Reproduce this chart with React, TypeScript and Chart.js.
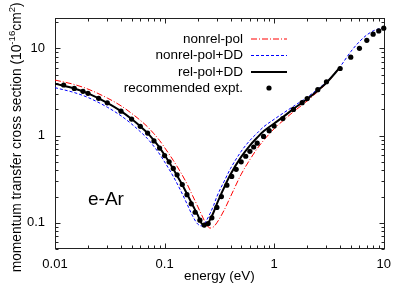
import { useEffect, useRef } from "react";
import { Chart, registerables } from "chart.js";
Chart.register(...registerables);

const FONT = '"Liberation Sans", Arial, Helvetica, sans-serif';

// energies (eV) at which the theory curves are sampled
const lineEnergies = [0.01, 0.015, 0.02, 0.03, 0.04, 0.05, 0.06, 0.07, 0.08, 0.09, 0.1, 0.12, 0.14, 0.16, 0.18, 0.2, 0.22, 0.24, 0.26, 0.28, 0.3, 0.35, 0.4, 0.5, 0.6, 0.7, 0.8, 1, 1.2, 1.5, 2, 2.5, 3, 4];
const blueEnergies = [0.01, 0.015, 0.02, 0.03, 0.04, 0.05, 0.06, 0.07, 0.08, 0.09, 0.1, 0.12, 0.14, 0.16, 0.18, 0.2, 0.22, 0.24, 0.26, 0.28, 0.3, 0.35, 0.4, 0.5, 0.6, 0.7, 0.8, 1, 1.2, 1.5, 2, 2.5, 3, 4, 5, 6, 7, 8, 9, 10];

// cross sections in 1e-16 cm^2
const nonrelPol = [4.34, 3.86, 3.42, 2.7, 2.2, 1.8, 1.5, 1.26, 1.05, 0.88, 0.73, 0.52, 0.38, 0.28, 0.205, 0.155, 0.12, 0.096, 0.087, 0.09, 0.1, 0.14, 0.2, 0.36, 0.53, 0.71, 0.88, 1.2, 1.48, 1.88, 2.5, 3.2, 3.98, 6.05];
const nonrelPolDD = [3.55, 3.12, 2.74, 2.12, 1.69, 1.36, 1.11, 0.92, 0.75, 0.615, 0.5, 0.34, 0.235, 0.165, 0.12, 0.097, 0.092, 0.105, 0.128, 0.158, 0.2, 0.3, 0.42, 0.66, 0.88, 1.07, 1.26, 1.54, 1.8, 2.17, 2.76, 3.42, 4.15, 6.2, 9.2, 12.0, 14.3, 15.9, 16.8, 17.3];
const relPolDD = [3.94, 3.48, 3.06, 2.38, 1.91, 1.55, 1.28, 1.07, 0.88, 0.73, 0.6, 0.415, 0.295, 0.215, 0.16, 0.124, 0.097, 0.094, 0.108, 0.132, 0.165, 0.255, 0.36, 0.57, 0.77, 0.95, 1.12, 1.38, 1.63, 2.03, 2.63, 3.3, 4.05, 6.1];

const expEnergies = [0.012, 0.015, 0.018, 0.02, 0.025, 0.03, 0.04, 0.05, 0.06, 0.07, 0.08, 0.09, 0.1, 0.11, 0.12, 0.13, 0.145, 0.16, 0.175, 0.19, 0.21, 0.23, 0.25, 0.27, 0.3, 0.33, 0.37, 0.41, 0.45, 0.5, 0.55, 0.6, 0.65, 0.7, 0.8, 0.9, 1.0, 1.2, 1.5, 1.8, 2, 2.5, 3, 4, 5, 6, 7, 8, 9, 10];
const expValues = [3.81, 3.48, 3.22, 3.06, 2.68, 2.38, 1.91, 1.55, 1.28, 1.07, 0.87, 0.72, 0.59, 0.5, 0.42, 0.355, 0.275, 0.21, 0.165, 0.132, 0.107, 0.094, 0.098, 0.114, 0.15, 0.2, 0.27, 0.34, 0.41, 0.5, 0.58, 0.66, 0.74, 0.82, 0.98, 1.14, 1.29, 1.57, 2.0, 2.39, 2.66, 3.37, 4.15, 5.89, 7.94, 10.05, 12.4, 14.6, 15.9, 17.1];

const xTickValues = [0.01, 0.1, 1, 10];
const yTickValues = [0.1, 1, 10];
const X_MIN = 0.01, X_MAX = 10, Y_MIN = 0.05, Y_MAX = 22.5;

const legendLabels = ["nonrel-pol", "nonrel-pol+DD", "rel-pol+DD", "recommended expt."];

const pts = (xs: number[], ys: number[]) => xs.map((x, i) => ({ x, y: ys[i] }));

function logTicks(min: number, max: number) {
  const out: { v: number; major: boolean }[] = [];
  for (let d = Math.floor(Math.log10(min)); d <= Math.ceil(Math.log10(max)); d++) {
    for (let m = 1; m <= 9; m++) {
      const v = Number((m * Math.pow(10, d)).toPrecision(6));
      if (v >= min * 0.9999 && v <= max * 1.0001) out.push({ v, major: m === 1 });
    }
  }
  return out;
}

const framePlugin = {
  id: "gnuplotFrame",
  beforeDatasetsDraw(chart: any) {
    const { ctx, chartArea: a, scales } = chart;
    const xs = scales.x, ys = scales.y;
    ctx.save();
    ctx.strokeStyle = "#222";
    ctx.lineWidth = 1;
    const L = Math.round(a.left) + 0.5, R = Math.round(a.right) + 0.5;
    const T = Math.round(a.top) + 0.5, B = Math.round(a.bottom) - 0.5;
    ctx.strokeRect(L, T, R - L, B - T);
    ctx.beginPath();
    for (const t of logTicks(X_MIN, X_MAX)) {
      const p = Math.round(xs.getPixelForValue(t.v)) + 0.5;
      const len = t.major ? 5 : 3;
      ctx.moveTo(p, B); ctx.lineTo(p, B - len);
      ctx.moveTo(p, T); ctx.lineTo(p, T + len);
    }
    for (const t of logTicks(Y_MIN, Y_MAX)) {
      const p = Math.round(ys.getPixelForValue(t.v)) + 0.5;
      const len = t.major ? 5 : 3;
      ctx.moveTo(L, p); ctx.lineTo(L + len, p);
      ctx.moveTo(R, p); ctx.lineTo(R - len, p);
    }
    ctx.stroke();
    ctx.restore();
  },
  afterDraw(chart: any) {
    const { ctx, chartArea: a } = chart;
    ctx.save();
    ctx.fillStyle = "#000";
    // x title
    ctx.font = `13.5px ${FONT}`;
    ctx.textAlign = "center";
    ctx.textBaseline = "alphabetic";
    ctx.fillText("energy (eV)", (a.left + a.right) / 2, 280);
    // y title with superscripts
    const big = `13.8px ${FONT}`, small = `9.6px ${FONT}`;
    const parts: [string, boolean][] = [["momentum transfer cross section (10", false], ["-16", true], ["cm", false], ["2", true], [")", false]];
    let w = 0;
    for (const [s, sup] of parts) { ctx.font = sup ? small : big; w += ctx.measureText(s).width; }
    ctx.translate(20.5, (a.top + a.bottom) / 2 + 4);
    ctx.rotate(-Math.PI / 2);
    ctx.textAlign = "left";
    let x = -w / 2;
    for (const [s, sup] of parts) {
      ctx.font = sup ? small : big;
      ctx.fillText(s, x, sup ? -5.5 : 0);
      x += ctx.measureText(s).width;
    }
    ctx.restore();

    // legend
    const rows = [39, 55.5, 72, 88];
    const x0 = 251, x1 = 287;
    ctx.save();
    ctx.fillStyle = "#000";
    ctx.font = `13.5px ${FONT}`;
    ctx.textAlign = "right";
    ctx.textBaseline = "middle";
    legendLabels.forEach((t, i) => ctx.fillText(t, 243, rows[i]));
    ctx.restore();

    const sample = (y: number, color: string, width: number, dash: number[]) => {
      ctx.save();
      ctx.strokeStyle = color;
      ctx.lineWidth = width;
      ctx.setLineDash(dash);
      ctx.beginPath();
      ctx.moveTo(x0, y);
      ctx.lineTo(x1, y);
      ctx.stroke();
      ctx.restore();
    };
    sample(rows[0], "rgb(255,0,0)", 1, [6, 2, 1, 2]);
    sample(rows[1], "rgb(0,0,255)", 1, [3, 2]);
    sample(rows[2], "rgb(0,0,0)", 2, []);
    ctx.save();
    ctx.fillStyle = "#000";
    ctx.beginPath(); ctx.arc(269, rows[3], 2.6, 0, Math.PI * 2); ctx.fill();
    // e-Ar label
    ctx.font = `19px ${FONT}`;
    ctx.textAlign = "left";
    ctx.textBaseline = "alphabetic";
    ctx.fillText("e-Ar", 88, 205);
    ctx.restore();
  },
};

export default function App() {
  const ref = useRef<HTMLCanvasElement>(null);
  useEffect(() => {
    if (!ref.current) return;
    const chart = new Chart(ref.current, {
      type: "line",
      data: {
        datasets: [
          { label: "recommended expt.", data: pts(expEnergies, expValues), showLine: false, pointRadius: 2.6, pointBackgroundColor: "#000", pointBorderWidth: 0, borderColor: "#000", order: 0, clip: 6 },
          { label: "rel-pol+DD", data: pts(lineEnergies, relPolDD), borderColor: "#000", borderWidth: 2, pointRadius: 0, cubicInterpolationMode: "monotone", order: 1 },
          { label: "nonrel-pol+DD", data: pts(blueEnergies, nonrelPolDD), borderColor: "#0000ff", borderWidth: 1, borderDash: [3, 2], pointRadius: 0, cubicInterpolationMode: "monotone", order: 2 },
          { label: "nonrel-pol", data: pts(lineEnergies, nonrelPol), borderColor: "#ff0000", borderWidth: 1, borderDash: [6, 2, 1, 2], pointRadius: 0, cubicInterpolationMode: "monotone", order: 3 },
        ] as any,
      },
      options: {
        responsive: false,
        animation: false,
        devicePixelRatio: 1,
        layout: { padding: { left: 0, right: 13, top: 15, bottom: 0 } },
        plugins: { legend: { display: false }, tooltip: { enabled: false }, title: { display: false } },
        scales: {
          x: {
            type: "logarithmic", min: X_MIN, max: X_MAX,
            grid: { display: false, drawTicks: false }, border: { display: false },
            afterBuildTicks: (s: any) => { s.ticks = xTickValues.map((v) => ({ value: v })); },
            afterFit: (s: any) => { s.height = 39; },
            ticks: { autoSkip: false, maxRotation: 0, padding: 8, color: "#000", font: { family: FONT, size: 13 }, callback: (v: any) => String(v) },
          },
          y: {
            type: "logarithmic", min: Y_MIN, max: Y_MAX,
            grid: { display: false, drawTicks: false }, border: { display: false },
            afterBuildTicks: (s: any) => { s.ticks = yTickValues.map((v) => ({ value: v })); },
            afterFit: (s: any) => { s.width = 55; },
            ticks: { autoSkip: false, padding: 10, color: "#000", font: { family: FONT, size: 13 }, callback: (v: any) => String(v) },
          },
        },
      } as any,
      plugins: [framePlugin],
    });
    return () => chart.destroy();
  }, []);
  return (
    <div style={{ position: "absolute", left: 0, top: 0, width: 399, height: 288, background: "#fff" }}>
      <canvas ref={ref} width={399} height={288} style={{ display: "block" }} />
    </div>
  );
}
